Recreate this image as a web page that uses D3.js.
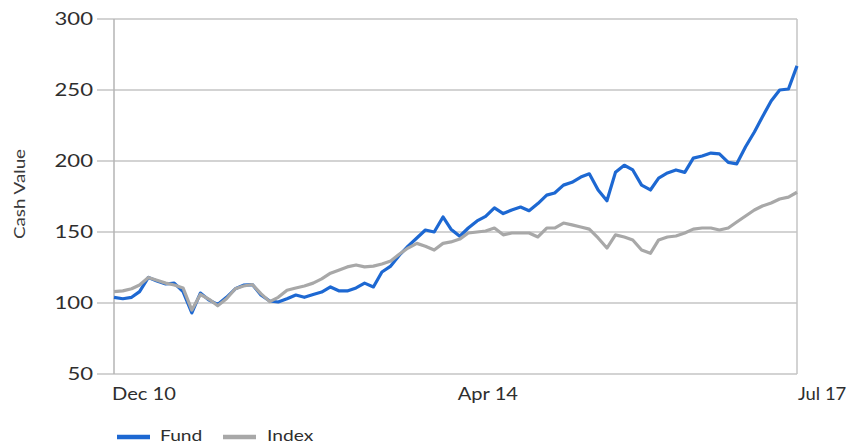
<!DOCTYPE html>
<html><head><meta charset="utf-8">
<script src="https://cdn.jsdelivr.net/npm/d3@7"></script>
<style>
html,body{margin:0;padding:0;background:#fff;}
svg{display:block;font-family:Lato,"Open Sans",sans-serif;}
</style></head>
<body><svg id="c" width="850" height="445"></svg>
<script>
// Data (monthly, Dec 2010 .. Jul 2017)
const startMonth = "2010-12";
const endMonth = "2017-07";
const fund = [104,103,104,108,118,115.5,113.4,114,108,93,107,102,99,104,110,112.6,113,105.7,101.4,100.7,
  103,105.6,104,106,107.7,111.3,108.5,108.5,110.6,114,111.3,121.8,126,133.8,140,145.8,151.4,150,160.6,152,
  147,152.8,157.8,161,167,163,165.5,167.6,165,170,176,177.5,183,185,188.7,191,179.6,172,192,197,
  193.7,183,179.6,188,191.6,193.7,192,202,203.5,205.6,205,199,198,210,220.4,231,242.3,250,250.7,267];
const indexVals = [108,108.5,110,112.7,118,116,114,112.7,110.6,95,106,102.6,98,103,110,112,113,106.6,101,104,
  109,110.6,112,114,117,121,123.3,125.4,126.8,125.4,126,127.5,129.6,134.5,138.7,142,140,137.3,142,143,
  145,149.3,150,150.7,152.8,148,149.3,149.3,149.3,146.5,152.8,152.8,156.3,155,153.5,152,145.8,138.7,148,146.5,
  144.4,137.3,135,144.4,146.5,147.2,149.3,152,152.8,152.8,151.4,152.8,157,161.3,165.5,168.3,170.4,173.2,174.6,178];
const yTicks = [50,100,150,200,250,300];
const xTickLabels = ["Dec 10","Apr 14","Jul 17"];
const xTickMonths = ["2010-12","2014-04","2017-07"];
const seriesNames = ["Fund","Index"];
const seriesColors = ["#1d68d2","#a8a8a8"];
const yTitle = "Cash Value";

const parse = d3.timeParse("%Y-%m");
const months = d3.timeMonth.range(parse(startMonth), d3.timeMonth.offset(parse(endMonth),1));

const svg = d3.select("#c");
const L=114, R=797, T=19, B=374;
const x = d3.scaleTime().domain([parse(startMonth), parse(endMonth)]).range([L,R]);
const y = d3.scaleLinear().domain([50,300]).range([B,T]);

// gridlines
svg.append("g").selectAll("line").data(yTicks).join("line")
  .attr("x1",L-17).attr("x2",R).attr("y1",d=>y(d)).attr("y2",d=>y(d))
  .attr("stroke","#c4c4c4").attr("stroke-width",1.5);
// frame verticals
svg.append("line").attr("x1",L).attr("x2",L).attr("y1",T).attr("y2",B).attr("stroke","#b4b4b4").attr("stroke-width",1.5);
svg.append("line").attr("x1",R).attr("x2",R).attr("y1",T).attr("y2",B).attr("stroke","#c4c4c4").attr("stroke-width",1.5);

// y tick labels
svg.append("g").selectAll("text").data(yTicks).join("text")
  .attr("transform",d=>`translate(93,${y(d)}) scale(1.3,1)`)
  .attr("dy","0.36em").attr("text-anchor","end")
  .attr("font-size",17).attr("fill","#2e2e2e").text(d=>d);

// x tick labels
svg.append("g").selectAll("text").data(xTickMonths).join("text")
  .attr("transform",(d,i)=>`translate(${x(parse(d))+(i===2?1:-2)},400) scale(${i===2?1.12:1.22},1)`)
  .attr("text-anchor","start").attr("font-size",16.5).attr("fill","#2e2e2e")
  .text((d,i)=>xTickLabels[i]);

// y title
svg.append("text").attr("transform","translate(25,194) rotate(-90)")
  .attr("text-anchor","middle").attr("font-size",14.5).attr("fill","#3a3a3a")
  .attr("textLength",90).attr("lengthAdjust","spacingAndGlyphs").text(yTitle);

// lines
const line = d3.line().x((d,i)=>x(months[i])).y(d=>y(d));
const data = [fund, indexVals];
[0,1].forEach(k=>{
  svg.append("path").datum(data[k]).attr("d",line).attr("fill","none")
    .attr("stroke",seriesColors[k]).attr("stroke-width",3.2)
    .attr("stroke-linejoin","round");
});

// legend
const lg = svg.append("g");
const lx = [117, 223], tx = [160, 267];
seriesNames.forEach((n,k)=>{
  lg.append("line").attr("x1",lx[k]).attr("x2",lx[k]+33).attr("y1",437).attr("y2",437)
    .attr("stroke",seriesColors[k]).attr("stroke-width",4.5);
  lg.append("text").attr("transform",`translate(${tx[k]},441) scale(1.2,1)`)
    .attr("font-size",16).attr("fill","#2e2e2e").text(n);
});
</script></body></html>
